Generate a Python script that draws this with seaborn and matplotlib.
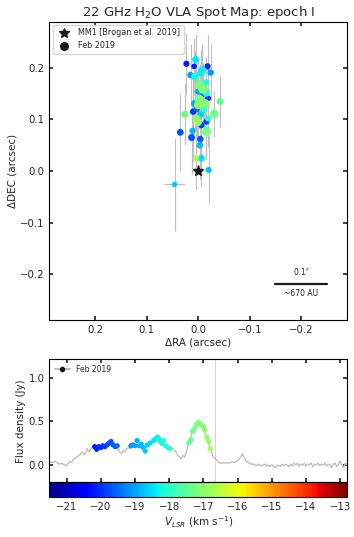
import numpy as np
import pandas as pd
import seaborn as sns
import matplotlib.pyplot as plt
from matplotlib.lines import Line2D
from matplotlib.colors import Normalize
from matplotlib.cm import ScalarMappable

# spot positions (arcsec), errors, velocities (km/s) and fluxes (Jy)
spot_ra = [0.023, 0.008, -0.018, -0.019, 0.010, -0.016, -0.006, 0.035, 0.013, -0.004, 0.003, -0.010,
           0.015, -0.024, 0.000, 0.007, 0.011, -0.003, -0.020, 0.046, -0.005, -0.006,
           0.005, -0.008, -0.005, 0.007, -0.015, -0.016, -0.011, -0.019, -0.015,
           -0.042, 0.026, -0.031, -0.016, -0.003, -0.009, -0.002, -0.013, 0.000, 0.004, 0.000, 0.004]
spot_dec = [0.208, 0.203, 0.203, 0.141, 0.115, 0.096, 0.089, 0.075, 0.065, 0.062, 0.120, 0.150,
            0.186, 0.191, 0.154, 0.131, 0.078, 0.050, 0.002, -0.026, 0.110, 0.025,
            0.216, 0.196, 0.190, 0.183, 0.172, 0.151, 0.120, 0.102, 0.081,
            0.135, 0.110, 0.111, 0.076, 0.167, 0.159, 0.139, 0.131, 0.128, 0.102, 0.094, 0.025]
spot_ra_err = [0.004, 0.003, 0.004, 0.003, 0.003, 0.004, 0.003, 0.005, 0.003, 0.004, 0.003, 0.003,
               0.003, 0.004, 0.003, 0.003, 0.003, 0.004, 0.004, 0.020, 0.003, 0.003,
               0.003, 0.003, 0.003, 0.003, 0.003, 0.003, 0.003, 0.004, 0.003,
               0.004, 0.004, 0.004, 0.003, 0.002, 0.002, 0.002, 0.002, 0.002, 0.003, 0.003, 0.003]
spot_dec_err = [0.060, 0.055, 0.060, 0.070, 0.065, 0.070, 0.060, 0.075, 0.070, 0.065, 0.060, 0.060,
                0.060, 0.055, 0.060, 0.050, 0.060, 0.065, 0.065, 0.090, 0.055, 0.055,
                0.050, 0.050, 0.045, 0.050, 0.050, 0.055, 0.050, 0.055, 0.060,
                0.050, 0.060, 0.045, 0.050, 0.040, 0.035, 0.035, 0.040, 0.040, 0.045, 0.050, 0.060]
spot_vel = [-20.18, -20.12, -20.06, -20.00, -19.94, -19.88, -19.82, -19.76, -19.70, -19.64, -19.58, -19.52,
            -19.12, -19.06, -19.00, -18.94, -18.88, -18.82, -18.76, -18.70, -18.64, -18.56,
            -18.46, -18.40, -18.34, -18.28, -18.22, -18.16, -18.10, -18.04, -17.98,
            -17.43, -17.37, -17.32, -17.25, -17.20, -17.14, -17.07, -17.00, -16.96, -16.90, -16.85, -16.80]
spot_flux = [0.21, 0.18, 0.21, 0.20, 0.22, 0.21, 0.23, 0.25, 0.27, 0.23, 0.21, 0.22,
             0.22, 0.23, 0.22, 0.28, 0.22, 0.24, 0.20, 0.16, 0.23, 0.25,
             0.28, 0.30, 0.32, 0.29, 0.25, 0.28, 0.22, 0.20, 0.19,
             0.255, 0.29, 0.385, 0.42, 0.47, 0.49, 0.46, 0.44, 0.40, 0.32, 0.27, 0.19]

# total-power spectrum, 0.05 km/s channels starting at -21.55 km/s
spec_flux = [0.06, 0.04, 0.03, 0.03, 0.04, 0.03, 0.02, 0.01, 0.02, 0.01,
             0.00, -0.01, 0.02, 0.04, 0.03, 0.07, 0.08, 0.09, 0.11, 0.12,
             0.15, 0.12, 0.13, 0.19, 0.15, 0.18, 0.21, 0.19, 0.20, 0.21,
             0.19, 0.21, 0.20, 0.22, 0.21, 0.23, 0.22, 0.25, 0.24, 0.22,
             0.21, 0.19, 0.15, 0.13, 0.16, 0.15, 0.18, 0.20, 0.19, 0.21,
             0.22, 0.21, 0.23, 0.22, 0.21, 0.23, 0.22, 0.20, 0.22, 0.23,
             0.24, 0.26, 0.28, 0.29, 0.27, 0.25, 0.24, 0.22, 0.23, 0.21,
             0.21, 0.20, 0.20, 0.19, 0.17, 0.15, 0.11, 0.09, 0.07, 0.11,
             0.09, 0.15, 0.22, 0.28, 0.35, 0.40, 0.44, 0.46, 0.47, 0.45,
             0.43, 0.41, 0.36, 0.30, 0.25, 0.19, 0.14, 0.09, 0.07, 0.05,
             0.03, 0.02, 0.02, 0.03, 0.02, 0.03, 0.02, 0.03, 0.04, 0.03,
             0.04, 0.05, 0.07, 0.10, 0.13, 0.08, 0.05, 0.03, 0.02, 0.01,
             0.01, 0.00, -0.01, 0.01, 0.00, -0.01, 0.00, 0.01, -0.01, 0.00,
             -0.02, 0.00, -0.01, -0.03, -0.01, 0.00, -0.02, 0.01, -0.01, 0.01,
             0.00, -0.02, 0.01, -0.01, 0.02, 0.00, 0.02, -0.01, 0.01, 0.00,
             0.02, -0.01, 0.01, 0.00, 0.02, -0.02, 0.01, 0.00, 0.02, -0.01,
             0.01, 0.00, 0.02, -0.01, 0.01, 0.00, -0.03, 0.01, 0.02, -0.02,
             0.01, 0.04, 0.00, -0.03, 0.02, 0.00, 0.01]
spec_vel = np.round(np.arange(len(spec_flux)) * 0.05 - 21.55, 2)

vsys = -16.65
vmin, vmax = -21.5, -12.8

spots = pd.DataFrame({"ra": spot_ra, "dec": spot_dec, "ra_err": spot_ra_err,
                      "dec_err": spot_dec_err, "vel": spot_vel, "flux": spot_flux})
spec = pd.DataFrame({"vel": spec_vel, "flux": spec_flux})

sns.set_theme(style="ticks")
plt.rcParams.update({
    "font.family": ["DejaVu Sans"],
    "xtick.direction": "in", "ytick.direction": "in",
    "xtick.top": True, "ytick.right": True,
    "xtick.labelsize": 7.3, "ytick.labelsize": 7.3,
    "axes.labelsize": 7.5, "axes.edgecolor": "black", "axes.linewidth": 0.8,
    "xtick.major.size": 3, "ytick.major.size": 3,
})

jet = plt.get_cmap("jet")
norm = Normalize(vmin, vmax)

fig = plt.figure(figsize=(3.54, 5.37), dpi=100)
W, H = 354, 537
ax1 = fig.add_axes([49.5 / W, 1 - 320 / H, 297.5 / W, 298 / H])
ax2 = fig.add_axes([49.5 / W, 1 - 482.3 / H, 297.5 / W, 123 / H])
cax = fig.add_axes([49.5 / W, 1 - 497.3 / H, 297.5 / W, 15 / H])

# --- spot map
ax1.errorbar(spots["ra"], spots["dec"], xerr=spots["ra_err"], yerr=spots["dec_err"],
             fmt="none", ecolor="0.75", elinewidth=0.8, zorder=1)
sns.scatterplot(data=spots, x="ra", y="dec", hue="vel", palette=jet, hue_norm=norm,
                size="flux", sizes=(15, 47), size_norm=(0.16, 0.49),
                linewidth=0, legend=False, ax=ax1, zorder=2)
ax1.plot(0, 0, marker="*", color="k", ms=8, ls="none", zorder=3)
ax1.set_xlim(0.289, -0.289)
ax1.set_ylim(-0.289, 0.289)
ax1.set_xticks([0.2, 0.1, 0.0, -0.1, -0.2])
ax1.set_yticks([-0.2, -0.1, 0.0, 0.1, 0.2])
ax1.set_xlabel("ΔRA (arcsec)", labelpad=2)
ax1.set_ylabel("ΔDEC (arcsec)", labelpad=2)
ax1.set_title("22 GHz H$_2$O VLA Spot Map: epoch I", fontsize=9.5, pad=4)

handles = [Line2D([], [], marker="*", color="k", ls="none", ms=7),
           Line2D([], [], marker="o", color="k", ls="none", ms=5.5)]
ax1.legend(handles, ["MM1 [Brogan et al. 2019]", "Feb 2019"], loc="upper left",
           fontsize=5.8, frameon=True, borderaxespad=0.4, handletextpad=0.8)

# scale bar
ax1.plot([-0.15, -0.25], [-0.219, -0.219], color="k", lw=1.6)
ax1.text(-0.2, -0.206, "0.1$''$", ha="center", va="bottom", fontsize=5.5)
ax1.text(-0.2, -0.228, "~670 AU", ha="center", va="top", fontsize=5.5)

# --- spectrum
sns.lineplot(data=spec, x="vel", y="flux", color="0.75", lw=1.0, ax=ax2, zorder=1)
sns.scatterplot(data=spots, x="vel", y="flux", hue="vel", palette=jet, hue_norm=norm,
                s=14, linewidth=0, legend=False, ax=ax2, zorder=2)
ax2.axvline(vsys, color="0.8", lw=0.6, zorder=0)
ax2.set_xlim(vmin, vmax)
ax2.set_ylim(-0.198, 1.21)
ax2.set_xticks(range(-21, -12))
ax2.set_yticks([0.0, 0.5, 1.0])
ax2.tick_params(axis="x", labelbottom=False)
ax2.set_xlabel("")
ax2.set_ylabel("Flux density (Jy)", labelpad=2)
ax2.legend([Line2D([], [], color="0.75", marker="o", mfc="k", mec="k", ms=3)], ["Feb 2019"],
           loc="upper left", fontsize=5.5, frameon=False, borderaxespad=0.3)

# --- colour bar
cb = fig.colorbar(ScalarMappable(norm=norm, cmap=jet), cax=cax, orientation="horizontal")
cb.outline.set_linewidth(0.8)
cax.tick_params(axis="x", direction="in", length=3, top=False, labelsize=7.3)
cb.set_ticks(range(-21, -12))
cb.set_label("$V_{LSR}$ (km s$^{-1}$)", fontsize=7.5, labelpad=2)

fig.savefig("out.png", dpi=100)
